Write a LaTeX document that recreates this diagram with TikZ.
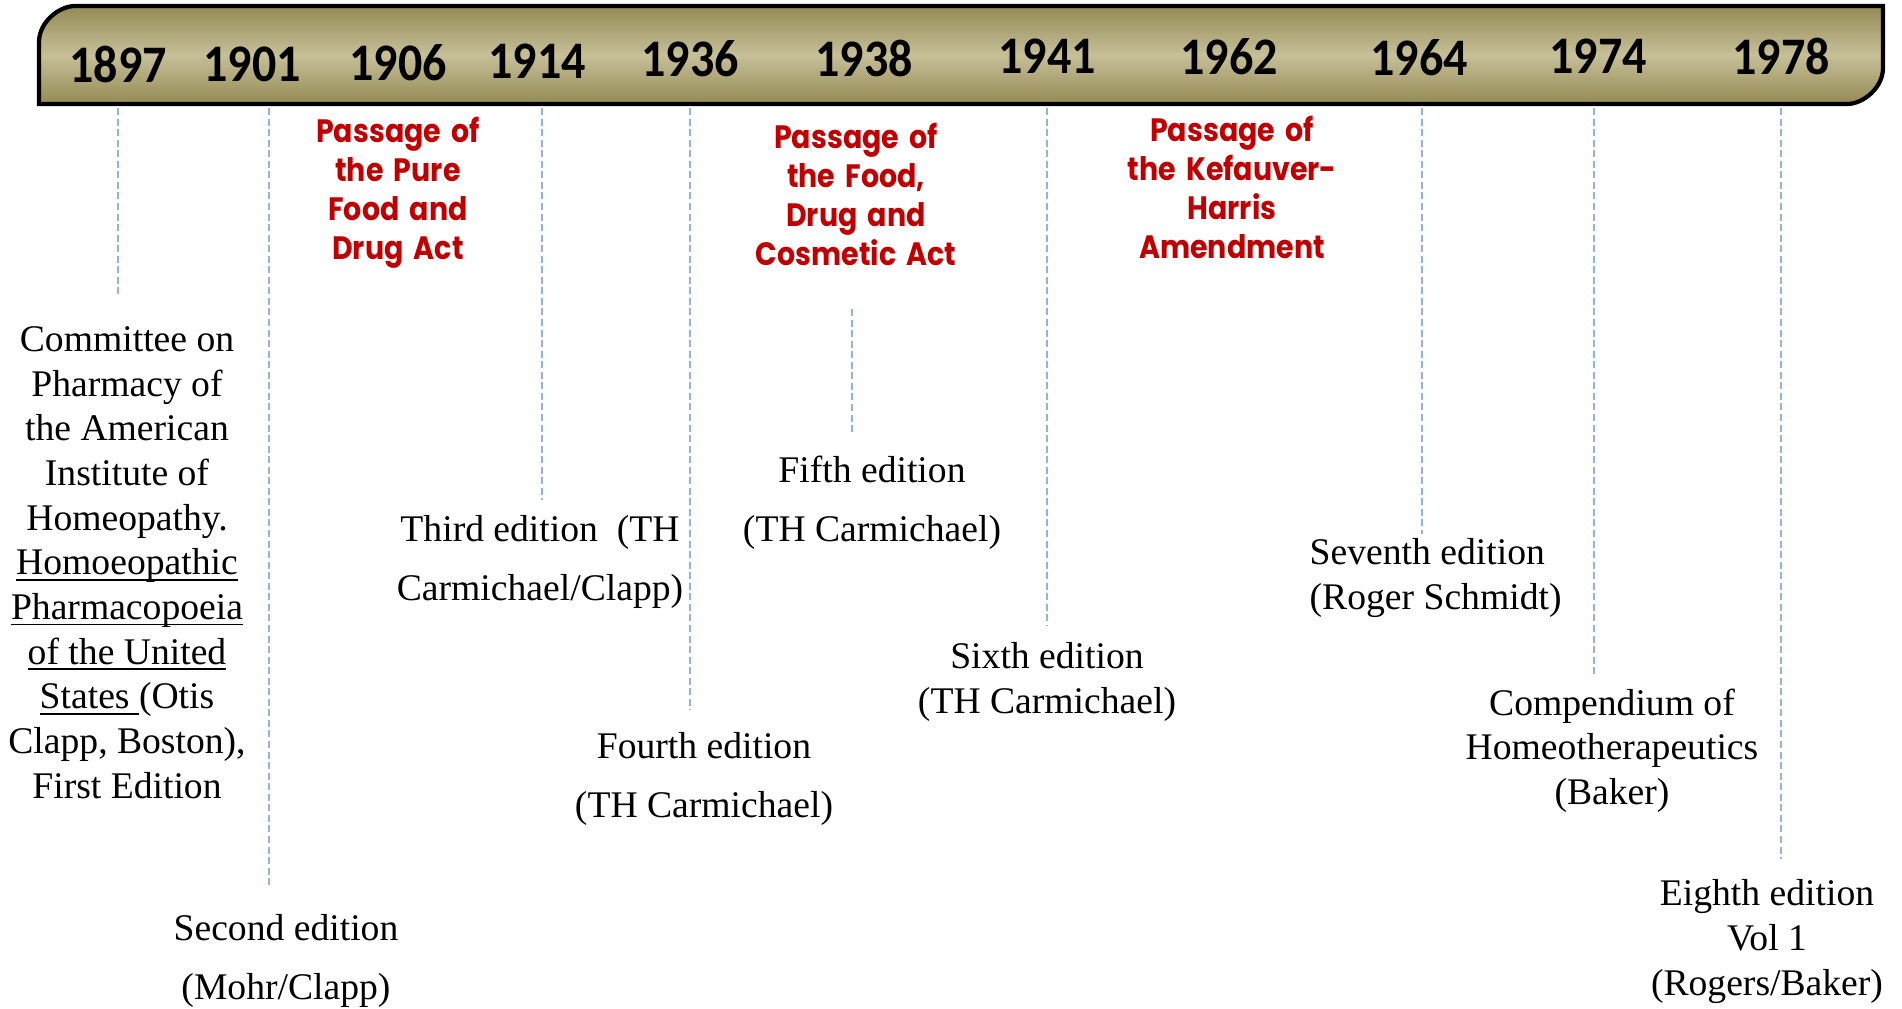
\documentclass[tikz,border=0pt]{standalone}
\usepackage{fontspec}
\setmainfont{Liberation Serif}
\newfontfamily\yearfont[FakeStretch=0.91]{Carlito}
\newfontfamily\actfont[FakeStretch=0.88,WordSpace=1.7]{Poppins}
\definecolor{bandedge}{RGB}{148,138,84}
\definecolor{bandmid}{RGB}{198,191,152}
\definecolor{actred}{RGB}{192,0,0}
\definecolor{tickblue}{RGB}{142,180,227}
\newcommand\ulword[1]{\underline{\smash{#1}}}
\tikzset{
  band/.style = {draw=black,line width=1.2pt,top color=bandedge,
    bottom color=bandedge,middle color=bandmid},
  year/.style = {font=\yearfont\bfseries\fontsize{15}{18}\selectfont,inner sep=0},
  act/.style = {text=actred,align=center,inner sep=0,anchor=north,
    font=\actfont\bfseries\fontsize{9.2}{11.1}\selectfont},
  entry/.style = {align=center,inner sep=0,anchor=north,
    font=\fontsize{10.7}{12.7}\selectfont},
  entrywide/.style = {entry,font=\fontsize{10.7}{16.8}\selectfont},
  tick/.style = {tickblue,line width=0.6pt,dash pattern=on 2pt off 1pt}
}

\begin{document}
\begin{tikzpicture}[x=0.01cm,y=-0.01cm]
  \useasboundingbox (0,0) rectangle (1902,1008);
  \draw[band] (39,104) -- (39,42) .. controls (39,22.1) and (58.9,6) .. (75,6)
    -- (1883,6) -- (1883,68) .. controls (1883,87.9) and (1863.1,104) .. (1847,104)
    -- cycle;
  \coordinate (bandbot) at (0,108);
  \foreach \yr/\x/\y in {1897/118/64,1901/252/64,1906/398/63,1914/537/61,
      1936/690/59,1938/864/58,1941/1047/56,1962/1229/57,1964/1419/58,
      1974/1598/56,1978/1781/56}
    \node[year] (y\yr) at (\x,\y) {\yr};

  \node[act] (pure) at (398,116) {Passage of\\the Pure\\Food and\\Drug Act};
  \node[act] (fdc)  at (856,122) {Passage of\\the Food,\\Drug and\\Cosmetic Act};
  \node[act] (kh)   at (1232,115) {Passage of\\the Kefauver-\\Harris\\Amendment};

  \node[entry] (first) at (127,326) {Committee on\\Pharmacy of\\the American\\
    Institute of\\Homeopathy.\\\ulword{Homoeopathic}\\\ulword{Pharmacopoeia}\\
    \ulword{of the United}\\\ulword{States\ }(Otis\\Clapp, Boston),\\First Edition};
  \node[entrywide] (second) at (286,914) {Second edition\\(Mohr/Clapp)};
  \node[entrywide] (third)  at (540,515) {Third edition \ (TH\\Carmichael/Clapp)};
  \node[entrywide] (fourth) at (704,732) {Fourth edition\\(TH Carmichael)};
  \node[entrywide] (fifth)  at (872,455) {Fifth edition\\(TH Carmichael)};
  \node[entry] (sixth) at (1047,642) {Sixth edition\\(TH Carmichael)};
  \node[entry,align=left,anchor=north west] (seventh) at (1309,538)
    {Seventh edition\\(Roger Schmidt)};
  \node[entry] (comp)   at (1612,688) {Compendium of\\Homeotherapeutics\\(Baker)};
  \node[entry] (eighth) at (1767,879) {Eighth edition\\Vol 1\\(Rogers/Baker)};

  \coordinate (t1897) at (118,297);
  \coordinate (t1901) at (269,888);
  \coordinate (t1914) at (542,500);
  \coordinate (t1936) at (690,710);
  \coordinate (t1941) at (1047,625);
  \coordinate (t1964) at (1422,534);
  \coordinate (t1974) at (1594,677);
  \coordinate (t1978) at (1781,859);
  \foreach \t in {t1897,t1901,t1914,t1936,t1941,t1964,t1974,t1978}
    \draw[tick] (\t |- bandbot) -- (\t);
  \draw[tick] (852,309) coordinate (s1938) -- (852,434) coordinate (t1938);
\end{tikzpicture}
\end{document}
